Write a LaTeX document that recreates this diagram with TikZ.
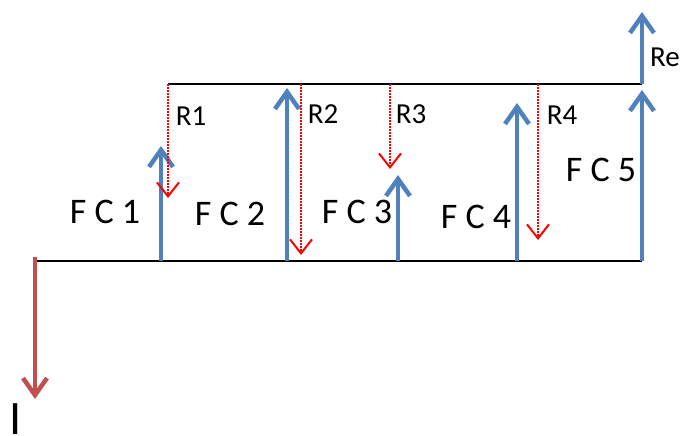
\documentclass[tikz,border=0pt]{standalone}
\usepackage{fontspec}
\setmainfont{Carlito}
\usetikzlibrary{arrows.meta}
\definecolor{fcblue}{HTML}{4F81BD}
\definecolor{ired}{HTML}{C0504D}
\tikzset{
  frame/.style={line width=2pt, black},
  fcarrow/.style={line width=4.5pt, fcblue, -{Straight Barb[length=17pt,width=24pt]}},
  rarrow/.style={line width=2pt, red, dash pattern=on 2pt off 1pt, -{Straight Barb[length=14pt,width=22pt]}},
  iarrow/.style={line width=4.5pt, ired, -{Straight Barb[length=17pt,width=24pt]}},
  fclab/.style={font=\fontsize{36}{38}\selectfont, inner sep=0pt},
  rlab/.style={font=\fontsize{29}{31}\selectfont, inner sep=0pt},
}
\begin{document}
\begin{tikzpicture}[x=1pt,y=-1pt]
\useasboundingbox (0,0) rectangle (681,436);
\clip (0,0) rectangle (681,436);
% frame lines
\coordinate (b0) at (35,261);
\coordinate (b5) at (642,261);
\coordinate (t0) at (168,84);
\coordinate (t5) at (642,84);
\draw[frame] (b0) -- (b5);
\draw[frame] (t0) -- (t5);
% current I
\coordinate (i0) at (35,257);
\coordinate (i1) at (35,399);
\draw[iarrow] (i0) -- (i1);
\node[font=\fontsize{48}{50}\selectfont, inner sep=0pt, anchor=north] (ilab) at (16,404) {I};
% blue FC arrows
\coordinate (f1b) at (161,261); \coordinate (f1t) at (161,146);
\coordinate (f2b) at (287,261); \coordinate (f2t) at (287,88);
\coordinate (f3b) at (398,261); \coordinate (f3t) at (398,175);
\coordinate (f4b) at (517,261); \coordinate (f4t) at (517,103);
\coordinate (f5b) at (642,261); \coordinate (f5t) at (642,90);
\coordinate (reb) at (642,84);  \coordinate (ret) at (642,12);
\draw[fcarrow] (f1b) -- (f1t);
\draw[fcarrow] (f2b) -- (f2t);
\draw[fcarrow] (f3b) -- (f3t);
\draw[fcarrow] (f4b) -- (f4t);
\draw[fcarrow] (f5b) -- (f5t);
\draw[fcarrow] (reb) -- (ret);
% red dotted arrows
\coordinate (r1t) at (168,84); \coordinate (r1e) at (168,198);
\coordinate (r2t) at (301,84); \coordinate (r2e) at (301,255);
\coordinate (r3t) at (390,84); \coordinate (r3e) at (390,169);
\coordinate (r4t) at (538,84); \coordinate (r4e) at (538,240);
\draw[rarrow] (r1t) -- (r1e);
\draw[rarrow] (r2t) -- (r2e);
\draw[rarrow] (r3t) -- (r3e);
\draw[rarrow] (r4t) -- (r4e);
% labels
\node[fclab] (fc1) at (105,212) {F C 1};
\node[fclab] (fc2) at (230,214) {F C 2};
\node[fclab] (fc3) at (357,212) {F C 3};
\node[fclab] (fc4) at (476,217) {F C 4};
\node[fclab] (fc5) at (601,170) {F C 5};
\node[rlab] (r1) at (191,116) {R1};
\node[rlab] (r2) at (323,114) {R2};
\node[rlab] (r3) at (411,114) {R3};
\node[rlab] (r4) at (562,115) {R4};
\node[rlab] (re) at (665,57) {Re};
\end{tikzpicture}
\end{document}
